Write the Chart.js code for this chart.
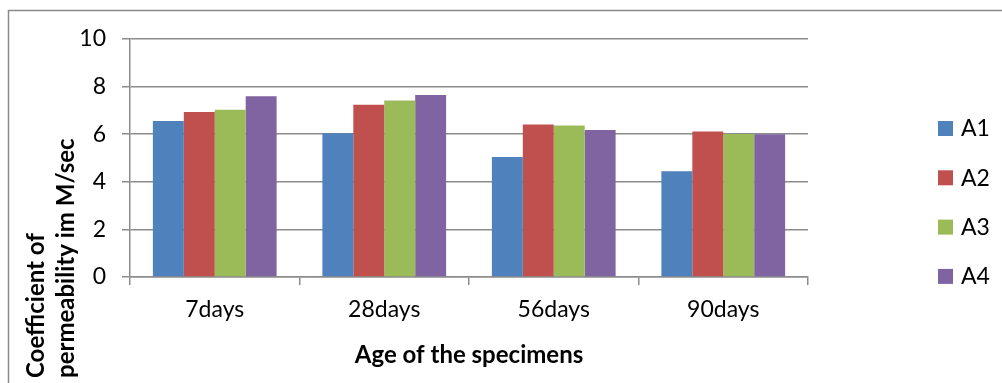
<!DOCTYPE html>
<html>
<head>
<meta charset="utf-8">
<script src="https://cdn.jsdelivr.net/npm/chart.js@4/dist/chart.umd.min.js"></script>
<style>
  html, body { margin: 0; padding: 0; background: #ffffff; }
  #wrap { width: 1002px; height: 383px; position: relative; }
</style>
</head>
<body>
<div id="wrap"><canvas id="c" width="1002" height="383"></canvas></div>
<script>
// Permeability coefficient by specimen age
const categories = ['7days', '28days', '56days', '90days'];
const seriesNames = ['A1', 'A2', 'A3', 'A4'];
const a1 = [6.55, 6.04, 5.04, 4.44];
const a2 = [6.93, 7.24, 6.41, 6.11];
const a3 = [7.03, 7.42, 6.37, 6.01];
const a4 = [7.59, 7.65, 6.18, 6.00];
const yTicks = [0, 2, 4, 6, 8, 10];
const xTitle = 'Age of the specimens';
const yTitleLines = ['Coefficient of', 'permeability im M/sec'];

const colors = ['#4F81BD', '#C0504D', '#9BBB59', '#8064A2'];
const gridColor = '#8c8c8c';
const FONT = 'Lato, "Open Sans", sans-serif';

// Frame, axis titles and the legend column
const decorations = {
  id: 'decorations',
  beforeDraw(chart) {
    const ctx = chart.ctx;
    ctx.save();
    ctx.strokeStyle = '#8a8a8a';
    ctx.lineWidth = 1.5;
    ctx.beginPath();
    ctx.moveTo(8.5, 383);
    ctx.lineTo(8.5, 10.5);
    ctx.lineTo(1002, 10.5);
    ctx.stroke();
    ctx.restore();
  },
  afterDraw(chart) {
    const ctx = chart.ctx;
    const area = chart.chartArea;
    ctx.save();
    ctx.fillStyle = '#000000';

    // x-axis title
    ctx.font = 'bold 24px ' + FONT;
    ctx.textAlign = 'center';
    ctx.textBaseline = 'middle';
    ctx.fillText(xTitle, (area.left + area.right) / 2, 355);

    // y-axis title, two rotated lines starting from the bottom edge
    ctx.translate(0, 378);
    ctx.rotate(-Math.PI / 2);
    ctx.textAlign = 'left';
    ctx.fillText(yTitleLines[0], 0, 36);
    ctx.fillText(yTitleLines[1], 0, 66);
    ctx.restore();

    // legend
    ctx.save();
    ctx.font = '23px ' + FONT;
    ctx.textAlign = 'left';
    ctx.textBaseline = 'middle';
    chart.data.datasets.forEach((ds, i) => {
      const cy = 128 + i * 49.3;
      ctx.fillStyle = ds.backgroundColor;
      ctx.fillRect(938, cy - 7, 15, 15);
      ctx.fillStyle = '#000000';
      ctx.fillText(ds.label, 961, cy + 1);
    });
    ctx.restore();
  }
};

const seriesValues = [a1, a2, a3, a4];

new Chart(document.getElementById('c'), {
  type: 'bar',
  data: {
    labels: categories,
    datasets: seriesNames.map((name, i) => ({
      label: name,
      data: seriesValues[i],
      backgroundColor: colors[i],
      borderWidth: 0,
      categoryPercentage: 0.73,
      barPercentage: 1.0
    }))
  },
  options: {
    responsive: false,
    animation: false,
    devicePixelRatio: 1,
    layout: { padding: { left: 0, top: 39, right: 194, bottom: 0 } },
    plugins: {
      legend: { display: false },
      tooltip: { enabled: false },
      title: { display: false }
    },
    scales: {
      x: {
        afterFit(scale) { scale.height = 383 - 277; },
        grid: {
          display: true,
          drawOnChartArea: false,
          drawTicks: true,
          tickLength: 8,
          color: gridColor,
          lineWidth: 1.5,
          offset: true
        },
        border: { display: true, color: gridColor, width: 1.5 },
        ticks: {
          color: '#000000',
          font: { family: FONT, size: 23 },
          padding: 11,
          maxRotation: 0
        }
      },
      y: {
        min: 0,
        max: 10,
        afterFit(scale) { scale.width = 130; },
        afterBuildTicks(scale) { scale.ticks = yTicks.map(v => ({ value: v })); },
        grid: {
          color: gridColor,
          lineWidth: 1.5,
          drawTicks: true,
          tickLength: 8
        },
        border: { display: true, color: gridColor, width: 1.5 },
        ticks: {
          color: '#000000',
          font: { family: FONT, size: 23 },
          padding: 16
        }
      }
    }
  },
  plugins: [decorations]
});
</script>
</body>
</html>
